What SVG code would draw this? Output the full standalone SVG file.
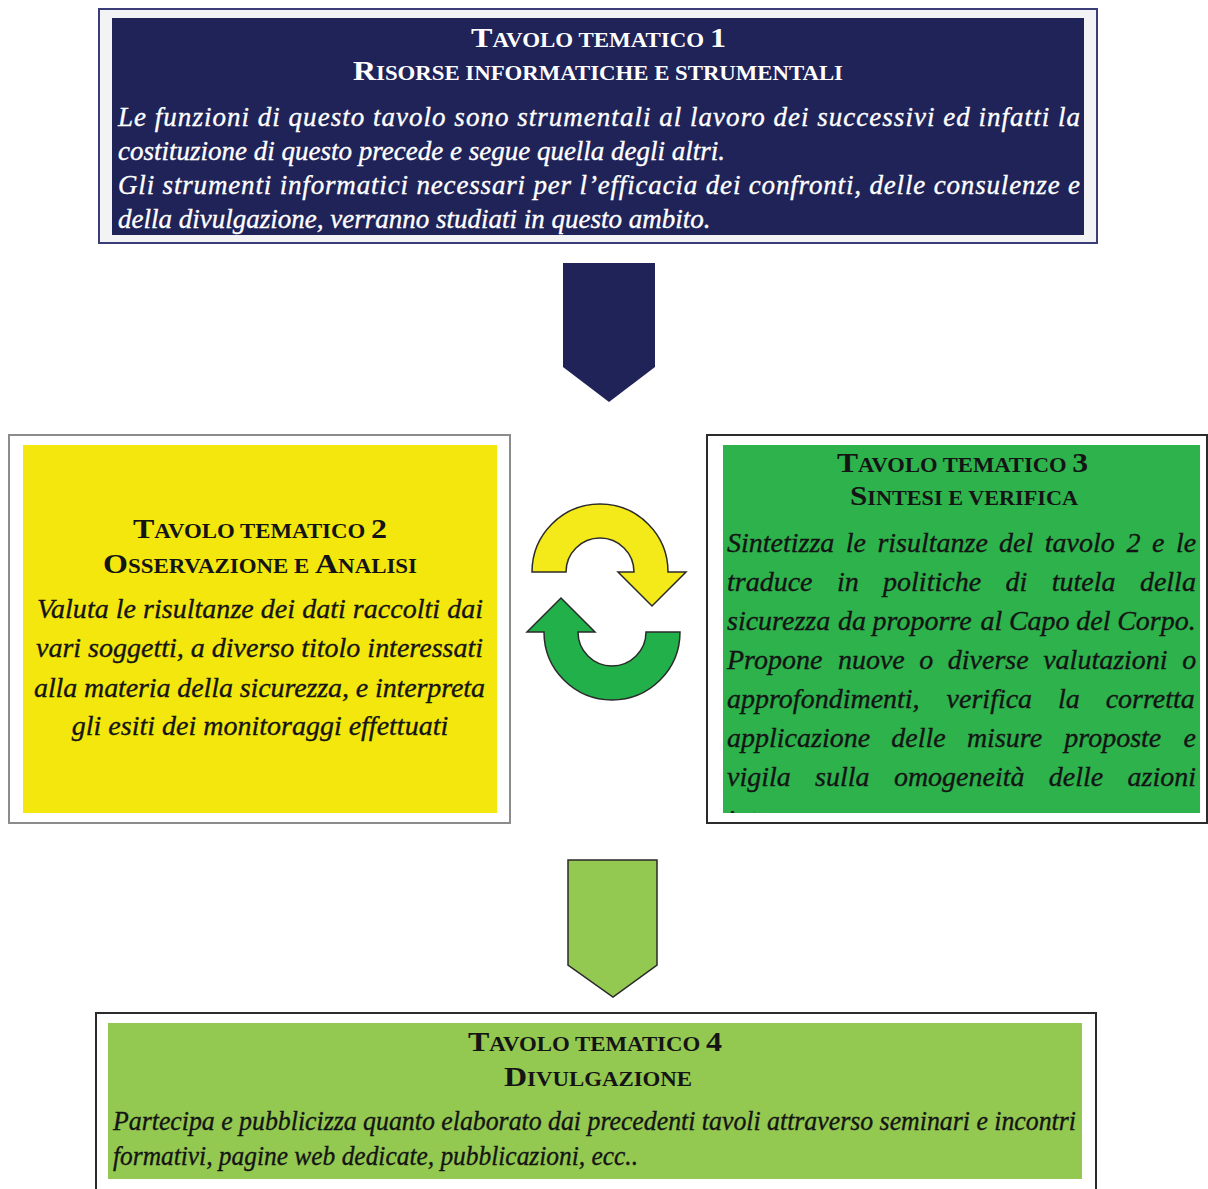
<svg xmlns="http://www.w3.org/2000/svg" width="1208" height="1189" viewBox="0 0 1208 1189">
  <defs>
    <style>
      .title{font-family:"Liberation Serif","Times New Roman",serif;font-weight:bold}
      .cap{font-size:28px}
      .sc{font-size:20px}
      .body{font-family:"Liberation Serif","Times New Roman",serif;font-style:italic;font-size:27px;stroke-width:0.35}
      .b28{font-size:28px}
      .light{fill:#ffffff;stroke:#ffffff}
      .dark{fill:#141414;stroke:#141414}
      .title.light,.title.dark{stroke:none}
      .frame{stroke-width:2}
      .outline{stroke:#2a2a2a;stroke-width:1.5;stroke-linejoin:miter}
    </style>
    <clipPath id="clip3"><rect x="723" y="445" width="477" height="368"/></clipPath>
  </defs>
  <rect width="1208" height="1189" fill="#ffffff"/>

  <!-- Tavolo 1 -->
  <g id="tavolo1">
    <rect x="99" y="9" width="998" height="234" fill="#f3f3f5" stroke="#3a3d78" class="frame"/>
    <rect x="112" y="18" width="972" height="217" fill="#1f2358"/>
    <text x="471" y="47" class="title light" textLength="255" lengthAdjust="spacingAndGlyphs"><tspan class="cap">T</tspan><tspan class="sc">AVOLO TEMATICO </tspan><tspan class="cap">1</tspan></text>
    <text x="353" y="80" class="title light" textLength="490" lengthAdjust="spacingAndGlyphs"><tspan class="cap">R</tspan><tspan class="sc">ISORSE INFORMATICHE E STRUMENTALI</tspan></text>
    <text x="118" y="126" class="body light" textLength="962" lengthAdjust="spacing">Le funzioni di questo tavolo sono strumentali al lavoro dei successivi ed infatti la</text>
    <text x="118" y="160" class="body light">costituzione di questo precede e segue quella degli altri.</text>
    <text x="118" y="194" class="body light" textLength="962" lengthAdjust="spacing">Gli strumenti informatici necessari per l’efficacia dei confronti, delle consulenze e</text>
    <text x="118" y="228" class="body light">della divulgazione, verranno studiati in questo ambito.</text>
  </g>

  <!-- Tavolo 2 -->
  <g id="tavolo2">
    <rect x="9" y="435" width="501" height="388" fill="#ffffff" stroke="#8c8c8c" class="frame"/>
    <rect x="23" y="445" width="474" height="368" fill="#f3e70d"/>
    <text x="133" y="538" class="title dark" textLength="254" lengthAdjust="spacingAndGlyphs"><tspan class="cap">T</tspan><tspan class="sc">AVOLO TEMATICO </tspan><tspan class="cap">2</tspan></text>
    <text x="103" y="573" class="title dark" textLength="314" lengthAdjust="spacingAndGlyphs"><tspan class="cap">O</tspan><tspan class="sc">SSERVAZIONE E </tspan><tspan class="cap">A</tspan><tspan class="sc">NALISI</tspan></text>
    <text x="37" y="618" class="body b28 dark" textLength="446" lengthAdjust="spacing">Valuta le risultanze dei dati raccolti dai</text>
    <text x="36" y="657" class="body b28 dark" textLength="447" lengthAdjust="spacing">vari soggetti, a diverso titolo interessati</text>
    <text x="34" y="697" class="body b28 dark" textLength="451" lengthAdjust="spacing">alla materia della sicurezza, e interpreta</text>
    <text x="260" y="735" class="body b28 dark" text-anchor="middle">gli esiti dei monitoraggi effettuati</text>
  </g>

  <!-- Tavolo 3 (justified body, one tspan per word) -->
  <g id="tavolo3">
    <rect x="707" y="435" width="500" height="388" fill="#ffffff" stroke="#2b2b2b" class="frame"/>
    <rect x="723" y="445" width="477" height="368" fill="#2db24c"/>
    <text x="837" y="472" class="title dark" textLength="251" lengthAdjust="spacingAndGlyphs"><tspan class="cap">T</tspan><tspan class="sc">AVOLO TEMATICO </tspan><tspan class="cap">3</tspan></text>
    <text x="850" y="505" class="title dark" textLength="228" lengthAdjust="spacingAndGlyphs"><tspan class="cap">S</tspan><tspan class="sc">INTESI E VERIFICA</tspan></text>
    <g class="body b28 dark" clip-path="url(#clip3)">
      <text y="552"><tspan x="727">Sintetizza</tspan><tspan x="845.7">le</tspan><tspan x="877.4">risultanze</tspan><tspan x="999">del</tspan><tspan x="1044.8">tavolo</tspan><tspan x="1126.5">2</tspan><tspan x="1152">e</tspan><tspan x="1176">le</tspan></text>
      <text y="591"><tspan x="727">traduce</tspan><tspan x="836.9">in</tspan><tspan x="883.1">politiche</tspan><tspan x="1005.5">di</tspan><tspan x="1051.7">tutela</tspan><tspan x="1139.9">della</tspan></text>
      <text y="630"><tspan x="727">sicurezza</tspan><tspan x="837.9">da</tspan><tspan x="872.6">proporre</tspan><tspan x="980.4">al</tspan><tspan x="1008.9">Capo</tspan><tspan x="1076.3">del</tspan><tspan x="1117.2">Corpo.</tspan></text>
      <text y="669"><tspan x="727">Propone</tspan><tspan x="837.9">nuove</tspan><tspan x="919.3">o</tspan><tspan x="947.8">diverse</tspan><tspan x="1043.2">valutazioni</tspan><tspan x="1182.2">o</tspan></text>
      <text y="708"><tspan x="727">approfondimenti,</tspan><tspan x="946.6">verifica</tspan><tspan x="1058">la</tspan><tspan x="1105.7">corretta</tspan></text>
      <text y="747"><tspan x="727">applicazione</tspan><tspan x="891.3">delle</tspan><tspan x="966.9">misure</tspan><tspan x="1064.3">proposte</tspan><tspan x="1183.5">e</tspan></text>
      <text y="786"><tspan x="727">vigila</tspan><tspan x="815.1">sulla</tspan><tspan x="893.9">omogeneità</tspan><tspan x="1048.8">delle</tspan><tspan x="1127.5">azioni</tspan></text>
      <text y="829" x="727">interne.</text>
    </g>
  </g>

  <!-- Tavolo 4 -->
  <g id="tavolo4">
    <rect x="96" y="1013" width="1000" height="190" fill="#ffffff" stroke="#2b2b2b" class="frame"/>
    <rect x="108" y="1023" width="974" height="156" fill="#93c851"/>
    <text x="468" y="1051" class="title dark" textLength="254" lengthAdjust="spacingAndGlyphs"><tspan class="cap">T</tspan><tspan class="sc">AVOLO TEMATICO </tspan><tspan class="cap">4</tspan></text>
    <text x="504" y="1086" class="title dark" textLength="188" lengthAdjust="spacingAndGlyphs"><tspan class="cap">D</tspan><tspan class="sc">IVULGAZIONE</tspan></text>
    <text x="113" y="1130" class="body dark" textLength="963" lengthAdjust="spacingAndGlyphs">Partecipa e pubblicizza quanto elaborato dai precedenti tavoli attraverso seminari e incontri</text>
    <text x="113" y="1165" class="body dark" textLength="525" lengthAdjust="spacingAndGlyphs">formativi, pagine web dedicate, pubblicazioni, ecc..</text>
  </g>

  <!-- Connectors: block arrows and the exchange cycle -->
  <g id="connectors">
    <polygon points="563,263 655,263 655,367 609,402 563,367" fill="#1f2358"/>
    <path d="M532 572 A68 68 0 0 1 668 572 L686 572 L652 606 L618 572 L634 572 A34 34 0 0 0 566 572 Z" fill="#f4ea1a" class="outline"/>
    <path d="M680 632 A68 68 0 0 1 544 632 L527 632 L561 598 L595 632 L578 632 A34 34 0 0 0 646 632 Z" fill="#22b04b" class="outline"/>
    <polygon points="568,860 657,860 657,965 613,997 568,965" fill="#93c851" class="outline"/>
  </g>
</svg>
